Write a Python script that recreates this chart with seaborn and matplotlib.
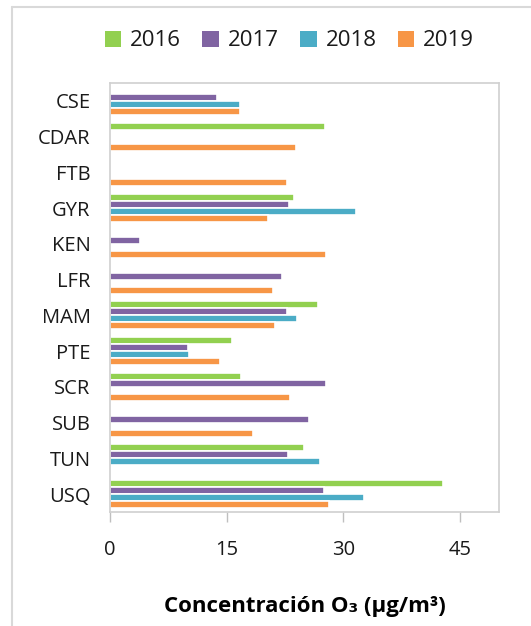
import pandas as pd
import matplotlib.pyplot as plt
import seaborn as sns
from matplotlib.patches import Patch
from matplotlib.lines import Line2D

# Data (O3 concentration, ug/m3)
sites = ['CSE', 'CDAR', 'FTB', 'GYR', 'KEN', 'LFR', 'MAM', 'PTE', 'SCR', 'SUB', 'TUN', 'USQ']
years = ['2016', '2017', '2018', '2019']
vals_2016 = [None, 27.6, None, 23.6, None, None, 26.7, 15.7, 16.8, None, 24.9, 42.8]
vals_2017 = [13.7, None, None, 23.0, 3.8, 22.1, 22.7, 10.0, 27.8, 25.6, 22.9, 27.5]
vals_2018 = [16.7, None, None, 31.6, None, None, 24.1, 10.2, None, None, 27.0, 32.7]
vals_2019 = [16.7, 23.9, 22.7, 20.3, 27.8, 20.9, 21.2, 14.1, 23.1, 18.4, None, 28.1]
colors = ['#92D050', '#8064A2', '#4BACC6', '#F79646']


def make_plot():
    rows = []
    for yr, vals in zip(years, [vals_2016, vals_2017, vals_2018, vals_2019]):
        for s, v in zip(sites, vals):
            rows.append({'Site': s, 'Year': yr, 'O3': v})
    df = pd.DataFrame(rows)

    sns.set_style('white')
    plt.rcParams['font.family'] = ['Open Sans', 'DejaVu Sans']

    fig = plt.figure(figsize=(5.31, 6.26), dpi=100)
    ax = fig.add_axes([110 / 531, 1 - 512 / 626, (499 - 110) / 531, (512 - 83) / 626])

    sns.barplot(data=df, x='O3', y='Site', hue='Year', order=sites, hue_order=years,
                palette=colors, saturation=1, orient='h', width=0.78, edgecolor='white',
                linewidth=1.2, legend=False, ax=ax)

    ax.set_xlim(0, 50)
    ax.set_xticks([0, 15, 30, 45])
    ax.set_ylim(len(sites) - 0.5, -0.5)
    ax.tick_params(axis='x', labelsize=14.5, labelcolor='#1a1a1a', length=7, width=1,
                   direction='out', bottom=True, color='#bfbfbf', pad=13)
    ax.tick_params(axis='y', labelsize=14.5, labelcolor='#1a1a1a', length=0, pad=14)
    for sp in ax.spines.values():
        sp.set_color('#d0d0d0')
        sp.set_linewidth(1.2)
    ax.set_ylabel('')
    ax.set_xlabel('Concentración O₃ (µg/m³)', fontsize=16, fontweight='bold',
                  labelpad=26, color='black')

    handles = [Patch(facecolor=c, edgecolor='none') for c in colors]
    fig.legend(handles, years, loc='center', bbox_to_anchor=(0.545, 1 - 41 / 626),
               ncol=4, frameon=False, fontsize=16, handlelength=0.75, handleheight=0.75,
               handletextpad=0.4, columnspacing=0.95, labelcolor='#1a1a1a')

    # outer chart frame (top and left edges visible)
    fig.add_artist(Line2D([12 / 531, 12 / 531], [0, 1 - 7 / 626], color='#d9d9d9',
                          lw=1.5, transform=fig.transFigure))
    fig.add_artist(Line2D([12 / 531, 1], [1 - 7 / 626, 1 - 7 / 626], color='#d9d9d9',
                          lw=1.5, transform=fig.transFigure))

    fig.savefig('out.png', dpi=100)
    plt.close(fig)


if __name__ == "__main__":
    make_plot()
